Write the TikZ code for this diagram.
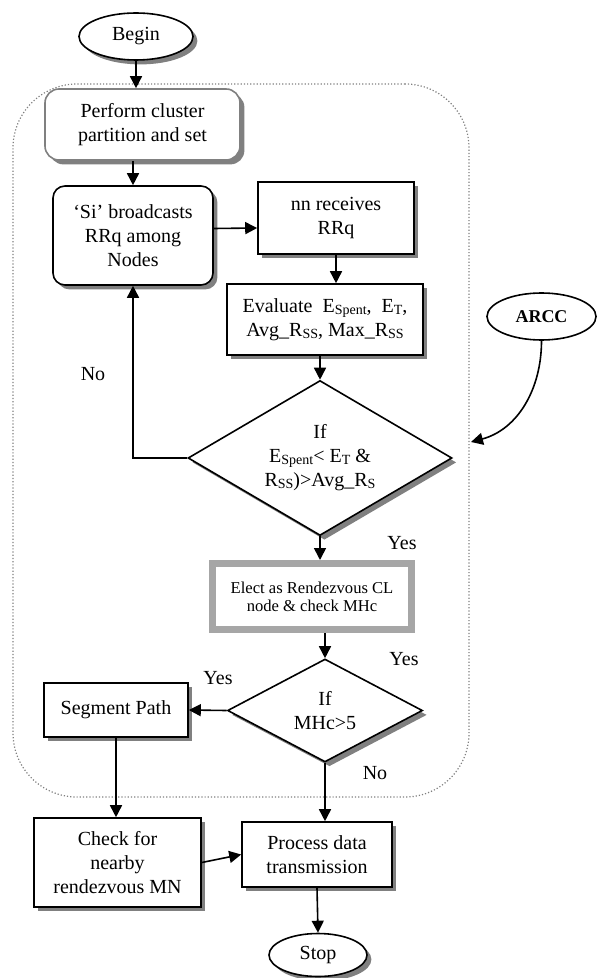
\documentclass[tikz,border=0pt]{standalone}
\usepackage{fontspec}
\setmainfont{Liberation Serif}
\usetikzlibrary{shapes.geometric,arrows.meta,shadows}
\newcommand{\lowtxt}[1]{\raisebox{-0.2ex}{\fontsize{7}{8}\selectfont #1}}

\tikzset{
	every node/.style={font=\fontsize{10}{12}\selectfont, align=center, inner sep=0pt},
	shade/.style={drop shadow={shadow xshift=2.2pt, shadow yshift=-2.2pt, fill=black!50, opacity=1}},
	flowbox/.style={draw, line width=0.8pt, fill=white, shade},
	roundbox/.style={flowbox, rounded corners=6pt},
	decision/.style={diamond, draw, line width=0.8pt, fill=white, shade},
	terminal/.style={ellipse, draw, line width=0.8pt, fill=white},
	cluster/.style={draw=black!50, densely dotted, line width=0.6pt, rounded corners=32pt},
	arr/.style={-{Triangle[length=6pt,width=6pt]}, line width=0.8pt},
	lbl/.style={font=\fontsize{10}{12}\selectfont}
}

\begin{document}
\begin{tikzpicture}[x=0.5pt,y=-0.5pt]
	\useasboundingbox (0,0) rectangle (597,978);
	% dotted cluster frame
	\node[cluster, minimum width=228pt, minimum height=356.5pt] (frame) at (241,440.5) {};

	\node[terminal, shade, minimum width=57pt, minimum height=23.5pt] (begin) at (136,36.5) {Begin};
	\node[flowbox, draw=black!50, rounded corners=7pt, minimum width=97.5pt, minimum height=35.5pt] (perform) at (142.5,124.5) {Perform cluster\\partition and set};
	\node[roundbox, minimum width=80pt, minimum height=49.5pt] (si) at (133,235.5) {‘Si’ broadcasts\\RRq among\\Nodes};
	\node[flowbox, minimum width=78pt, minimum height=36pt] (nn) at (336,218) {nn receives\\RRq};
	\node[flowbox, minimum width=98pt, minimum height=35.5pt] (eval) at (325,319.5) {Evaluate\ \ E\lowtxt{Spent},\ \ E\lowtxt{T},\\Avg\_R\lowtxt{SS}, Max\_R\lowtxt{SS}};
	\node[decision, aspect=1.7, minimum width=132pt, minimum height=77.5pt] (if1) at (320,458) {If\\E\lowtxt{Spent}< E\lowtxt{T} \&\\R\lowtxt{SS})>Avg\_R\lowtxt{S}};
	\node[draw=black!35, line width=3.5pt, fill=white, minimum width=99.5pt, minimum height=33pt, font=\fontsize{8.3}{9}\selectfont] (elect) at (312,596.5) {Elect as Rendezvous CL\\node \& check MHc};
	\node[decision, aspect=1.9, minimum width=97.5pt, minimum height=51.5pt] (if2) at (325,710.5) {If\\MHc>5};
	\node[flowbox, minimum width=72pt, minimum height=27pt] (seg) at (116,710) {Segment Path};
	\node[flowbox, minimum width=83.5pt, minimum height=44.5pt] (check) at (117.5,862.5) {Check for\\nearby\\rendezvous MN};
	\node[flowbox, minimum width=75pt, minimum height=32.5pt] (proc) at (317,854.5) {Process data\\transmission};
	\node[terminal, shade, minimum width=49pt, minimum height=21.5pt] (stop) at (318,955) {Stop};
	\node[terminal, minimum width=54.5pt, minimum height=23.5pt, font=\fontsize{9}{10}\bfseries] (arcc) at (541.5,316.5) {ARCC};
	\coordinate (arcctip) at (471,442);

	% labels
	\node[lbl] (no1) at (93,374) {No};
	\node[lbl] (yes1) at (402,543) {Yes};
	\node[lbl] (yes2) at (404,659) {Yes};
	\node[lbl] (yes3) at (218,678) {Yes};
	\node[lbl] (no2) at (375,773) {No};

	% connectors
	\draw[arr] (begin.south) -- (begin.south |- perform.north);
	\draw[arr] (si.north |- perform.south) -- (si.north);
	\draw[arr] ([yshift=3.5pt]si.east) -- ([yshift=-5pt]nn.west);
	\draw[arr] (nn.south) -- (nn.south |- eval.north);
	\draw[arr] (if1.north |- eval.south) -- (if1.north);
	\draw[arr] (if1.west) -| (si.south);
	\draw[arr] (if1.south) -- (if1.south |- elect.north);
	\draw[arr] (if2.north |- elect.south) -- (if2.north);
	\draw[arr] (if2.west) -- (seg.east);
	\draw[arr] (seg.south) -- (seg.south |- check.north);
	\draw[arr] (if2.south) -- (if2.south |- proc.north);
	\draw[arr] (check.east) -- (proc.west);
	\draw[arr] (proc.south) -- (stop.north);
	\draw[arr] (arcc.south) to[out=-90, in=15] (arcctip);
\end{tikzpicture}
\end{document}
